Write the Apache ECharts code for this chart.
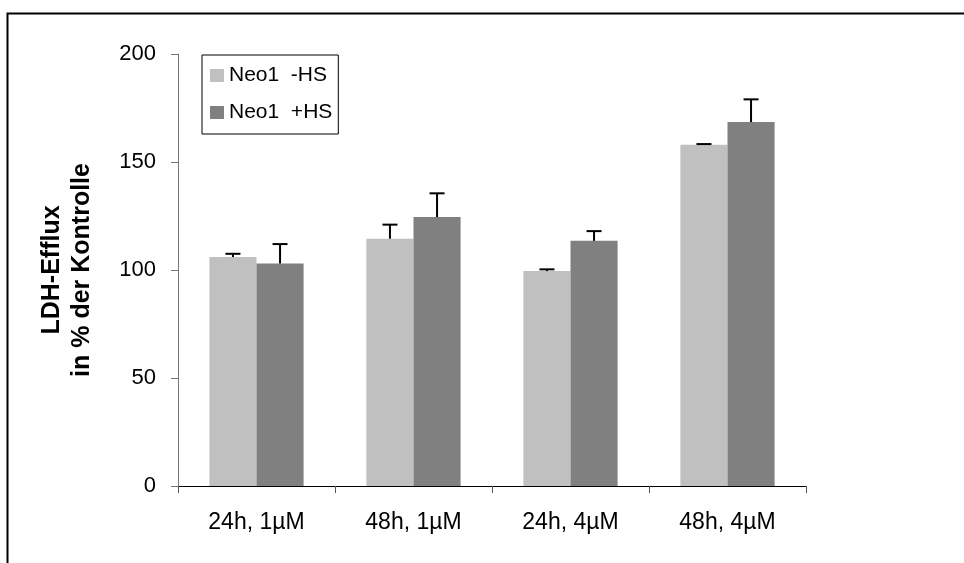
<!DOCTYPE html>
<html>
<head>
<meta charset="utf-8">
<script src="https://cdn.jsdelivr.net/npm/echarts@6/dist/echarts.min.js"></script>
<style>
  html, body { margin: 0; padding: 0; background: #fff; }
  #chart { width: 964px; height: 563px; }
</style>
</head>
<body>
<div id="chart"></div>
<script>
// Conditions on the category axis
const categories = ['24h, 1µM', '48h, 1µM', '24h, 4µM', '48h, 4µM'];

// Series names
const seriesNames = ['Neo1  -HS', 'Neo1  +HS'];

// LDH efflux (% of control) and upper error for each series
const valuesMinusHS = [106, 114.5, 99.5, 158];
const errorsMinusHS = [1.5, 6.5, 0.8, 0.3];
const valuesPlusHS = [103, 124.5, 113.5, 168.5];
const errorsPlusHS = [9, 11, 4.5, 10.5];

// Value axis ticks
const yMin = 0;
const yMax = 200;
const yStep = 50;

const FONT = "'Liberation Sans', Arial, sans-serif";
const BAR_FRACTION = 0.3;   // each bar's width as a share of the category band

const chart = echarts.init(document.getElementById('chart'), null, { renderer: 'canvas' });

// Upward error bar (stem + cap) centred on a bar of the given series slot
function errorBarRenderer(slot) {
  return function (params, api) {
    const cat = api.value(0);
    const val = api.value(1);
    const err = api.value(2);
    const band = api.size([1, 0])[0];
    const offset = (slot === 0 ? -0.5 : 0.5) * band * BAR_FRACTION;
    const base = api.coord([cat, val]);
    const top = api.coord([cat, val + err]);
    const x = base[0] + offset;
    const half = 7.5;
    const style = { stroke: '#000', lineWidth: 2 };
    return {
      type: 'group',
      children: [
        { type: 'line', shape: { x1: x, y1: base[1], x2: x, y2: top[1] }, style: style },
        { type: 'line', shape: { x1: x - half, y1: top[1], x2: x + half, y2: top[1] }, style: style }
      ]
    };
  };
}

const errDataMinus = valuesMinusHS.map((v, i) => [i, v, errorsMinusHS[i]]);
const errDataPlus = valuesPlusHS.map((v, i) => [i, v, errorsPlusHS[i]]);

chart.setOption({
  animation: false,
  backgroundColor: '#fff',
  textStyle: { fontFamily: FONT, color: '#000' },
  graphic: [
    {
      type: 'rect',
      left: 5, top: 11,
      shape: { width: 1000, height: 600 },
      style: { fill: 'none', stroke: '#000', lineWidth: 2 },
      silent: true
    }
  ],
  grid: { left: 178, right: 158, top: 54, bottom: 77, containLabel: false },
  legend: {
    orient: 'vertical',
    left: 202,
    top: 55,
    data: seriesNames,
    backgroundColor: '#fff',
    borderColor: '#000',
    borderWidth: 1,
    padding: [10, 6, 11, 8],
    itemWidth: 14,
    itemHeight: 13,
    itemGap: 16,
    icon: 'rect',
    textStyle: { fontFamily: FONT, fontSize: 21, color: '#000' }
  },
  xAxis: {
    type: 'category',
    data: categories,
    axisLine: { lineStyle: { color: '#000', width: 1 } },
    axisTick: { show: true, alignWithLabel: false, length: 7, lineStyle: { color: '#555' } },
    axisLabel: { fontFamily: FONT, fontSize: 23, color: '#000', margin: 25 }
  },
  yAxis: {
    type: 'value',
    min: yMin,
    max: yMax,
    interval: yStep,
    name: '{t|LDH-Efflux}\n{t|in % der Kontrolle}',
    nameLocation: 'middle',
    nameRotate: 90,
    nameGap: 81,
    nameTextStyle: {
      fontFamily: FONT, fontSize: 25, fontWeight: 'bold', color: '#000',
      rich: { t: { fontFamily: FONT, fontSize: 25, fontWeight: 'bold', color: '#000', lineHeight: 30 } }
    },
    axisLine: { show: true, lineStyle: { color: '#777', width: 1 } },
    axisTick: { show: true, length: 7, lineStyle: { color: '#777' } },
    splitLine: { show: false },
    axisLabel: { fontFamily: FONT, fontSize: 22, color: '#000', margin: 22 }
  },
  series: [
    {
      name: seriesNames[0],
      type: 'bar',
      data: valuesMinusHS,
      barWidth: (BAR_FRACTION * 100) + '%',
      barGap: '0%',
      itemStyle: { color: '#c0c0c0' },
      z: 2
    },
    {
      name: seriesNames[1],
      type: 'bar',
      data: valuesPlusHS,
      barWidth: (BAR_FRACTION * 100) + '%',
      barGap: '0%',
      itemStyle: { color: '#808080' },
      z: 2
    },
    {
      type: 'custom',
      renderItem: errorBarRenderer(0),
      data: errDataMinus,
      encode: { x: 0, y: 1 },
      z: 3,
      silent: true
    },
    {
      type: 'custom',
      renderItem: errorBarRenderer(1),
      data: errDataPlus,
      encode: { x: 0, y: 1 },
      z: 3,
      silent: true
    }
  ]
});
</script>
</body>
</html>
